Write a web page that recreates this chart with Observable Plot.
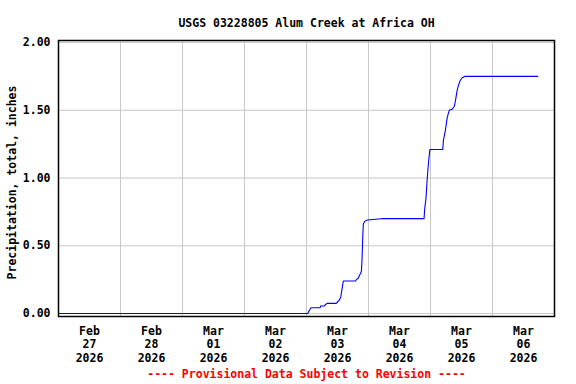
<!DOCTYPE html>
<html><head><meta charset="utf-8">
<script src="https://cdn.jsdelivr.net/npm/d3@7"></script>
<script src="https://cdn.jsdelivr.net/npm/@observablehq/plot@0.6"></script>
<style>
body{margin:0;background:#fff}
svg{font-family:"DejaVu Sans Mono",monospace;font-weight:bold}
</style>
</head><body><div id="chart"></div>
<script>
const title = "USGS 03228805 Alum Creek at Africa OH";
const yLabel = "Precipitation, total, inches";
const caption = "---- Provisional Data Subject to Revision ----";

const times = [
  "2026-02-27T00:00","2026-03-03T00:30","2026-03-03T01:00","2026-03-03T01:45",
  "2026-03-03T05:15","2026-03-03T05:30","2026-03-03T07:00","2026-03-03T07:15",
  "2026-03-03T08:00","2026-03-03T11:30","2026-03-03T12:00","2026-03-03T12:45",
  "2026-03-03T13:15","2026-03-03T13:45","2026-03-03T14:15","2026-03-03T19:00",
  "2026-03-03T19:15","2026-03-03T20:00","2026-03-03T20:30","2026-03-03T21:15",
  "2026-03-03T21:30","2026-03-03T21:45","2026-03-03T22:00","2026-03-03T22:30",
  "2026-03-03T23:30","2026-03-04T05:00","2026-03-04T21:30","2026-03-04T21:45",
  "2026-03-04T22:15","2026-03-04T22:45","2026-03-04T23:15","2026-03-04T23:45",
  "2026-03-05T04:45","2026-03-05T05:00","2026-03-05T05:45","2026-03-05T06:30",
  "2026-03-05T07:15","2026-03-05T08:30","2026-03-05T09:15","2026-03-05T09:45",
  "2026-03-05T10:15","2026-03-05T10:45","2026-03-05T11:30","2026-03-05T12:15",
  "2026-03-05T13:15","2026-03-06T17:30"
];
const precip = [
  0, 0, 0.02, 0.043,
  0.043, 0.055, 0.055, 0.065,
  0.075, 0.075, 0.085, 0.10,
  0.12, 0.18, 0.24, 0.24,
  0.25, 0.26, 0.28, 0.31,
  0.40, 0.55, 0.66, 0.68,
  0.69, 0.70, 0.70, 0.77,
  0.85, 1.00, 1.12, 1.21,
  1.21, 1.28, 1.35, 1.45,
  1.50, 1.51, 1.53, 1.58,
  1.64, 1.68, 1.72, 1.74,
  1.75, 1.75
];
const gridDays = ["2026-02-27","2026-02-28","2026-03-01","2026-03-02","2026-03-03","2026-03-04","2026-03-05","2026-03-06","2026-03-07"];
const labelDays = ["2026-02-27","2026-02-28","2026-03-01","2026-03-02","2026-03-03","2026-03-04","2026-03-05","2026-03-06"];
const yTicks = [0, 0.5, 1, 1.5, 2];

const parse = s => new Date(s + (s.length > 10 ? ":00Z" : "T00:00:00Z"));
const data = times.map((t, i) => ({date: parse(t), value: precip[i]}));
const gridDates = gridDays.map(parse);
const labelDates = labelDays.map(d => new Date(parse(d).getTime() + 12 * 3600 * 1000));
const fmt = d3.utcFormat("%b\n%d\n%Y");

const chart = Plot.plot({
  width: 576,
  height: 384,
  marginLeft: 58,
  marginRight: 22,
  marginTop: 40,
  marginBottom: 68,
  style: {fontFamily: "DejaVu Sans Mono, monospace", fontSize: "11.5px", fontWeight: "bold", color: "#000", background: "#fff"},
  x: {type: "utc", domain: [gridDates[0], gridDates[gridDates.length - 1]]},
  y: {domain: [-0.022, 2.015]},
  marks: [
    Plot.gridX(gridDates, {stroke: "#c8c8c8", strokeOpacity: 1, strokeWidth: 1}),
    Plot.gridY(yTicks, {stroke: "#c8c8c8", strokeOpacity: 1, strokeWidth: 1}),
    Plot.line(data, {x: "date", y: "value", stroke: "#0000ff", strokeWidth: 1.1}),
    Plot.frame({stroke: "#000", strokeWidth: 1.5}),
    Plot.axisX(labelDates, {tickSize: 0, tickPadding: 9, tickFormat: fmt, lineHeight: 1.16, fill: "#000", fontSize: 11.5, label: null}),
    Plot.axisY(yTicks, {tickSize: 0, tickPadding: 8, tickFormat: d3.format(".2f"), fill: "#000", fontSize: 11.5, label: null}),
    Plot.text([title], {frameAnchor: "top", dy: -22, fill: "#000", fontSize: 11.5}),
    Plot.text([yLabel], {frameAnchor: "left", textAnchor: "middle", dx: -46, dy: 4, rotate: -90, fill: "#000", fontSize: 11.5}),
    Plot.text([caption], {frameAnchor: "bottom", dy: 61, fill: "#ff0000", fontSize: 11.5})
  ]
});
document.getElementById("chart").appendChild(chart);
</script>
</body></html>
